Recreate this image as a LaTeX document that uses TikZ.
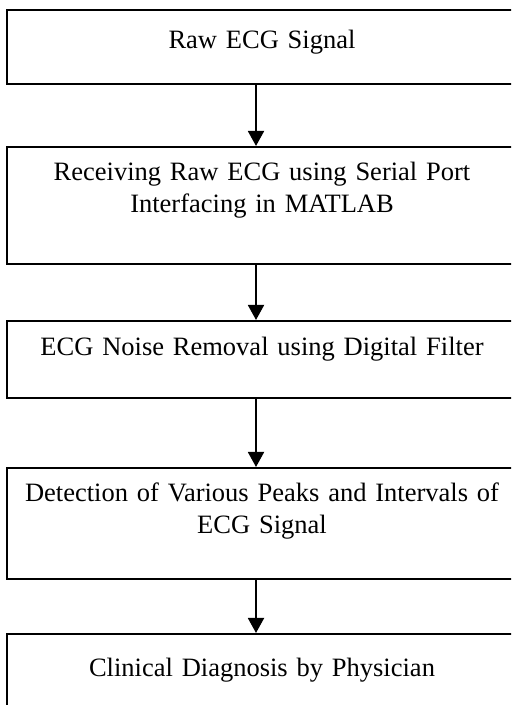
\documentclass[tikz,border=0pt]{standalone}
\usepackage{fontspec}
\setmainfont{Liberation Serif}
\usetikzlibrary{arrows.meta}

\tikzset{
  stage/.style={draw, line width=1pt, anchor=north, text width=225pt,
    minimum width=231pt, inner xsep=3pt, inner ysep=0pt, align=center,
    font=\fontsize{12}{14.5}\selectfont},
  flow/.style={line width=1pt, -{Triangle[width=7.2pt,length=6.8pt]}}
}

\begin{document}
\begin{tikzpicture}[x=0.4528pt, y=-0.4528pt]
  \clip (0,0) rectangle (511,705);
  \coordinate (axis) at (256,0);

  \node[stage, text height=17.2pt, text depth=16.3pt] (raw) at (262,9)
    {Raw ECG Signal};
  \node[stage, text height=14.9pt, text depth=38pt] (recv) at (262,146)
    {Receiving Raw ECG using Serial Port\\Interfacing in MATLAB};
  \node[stage, text height=15.8pt, text depth=19pt] (denoise) at (262,320)
    {ECG Noise Removal using Digital Filter};
  \node[stage, text height=14.9pt, text depth=35.3pt] (peaks) at (262,467)
    {Detection of Various Peaks and Intervals of\\ECG Signal};
  \node[stage, text height=19pt, text depth=40pt] (diag) at (262,633)
    {Clinical Diagnosis by Physician};

  \foreach \from/\to in {raw/recv, recv/denoise, denoise/peaks, peaks/diag}
    \draw[flow] (\from.south -| axis) -- (\to.north -| axis);
\end{tikzpicture}
\end{document}
